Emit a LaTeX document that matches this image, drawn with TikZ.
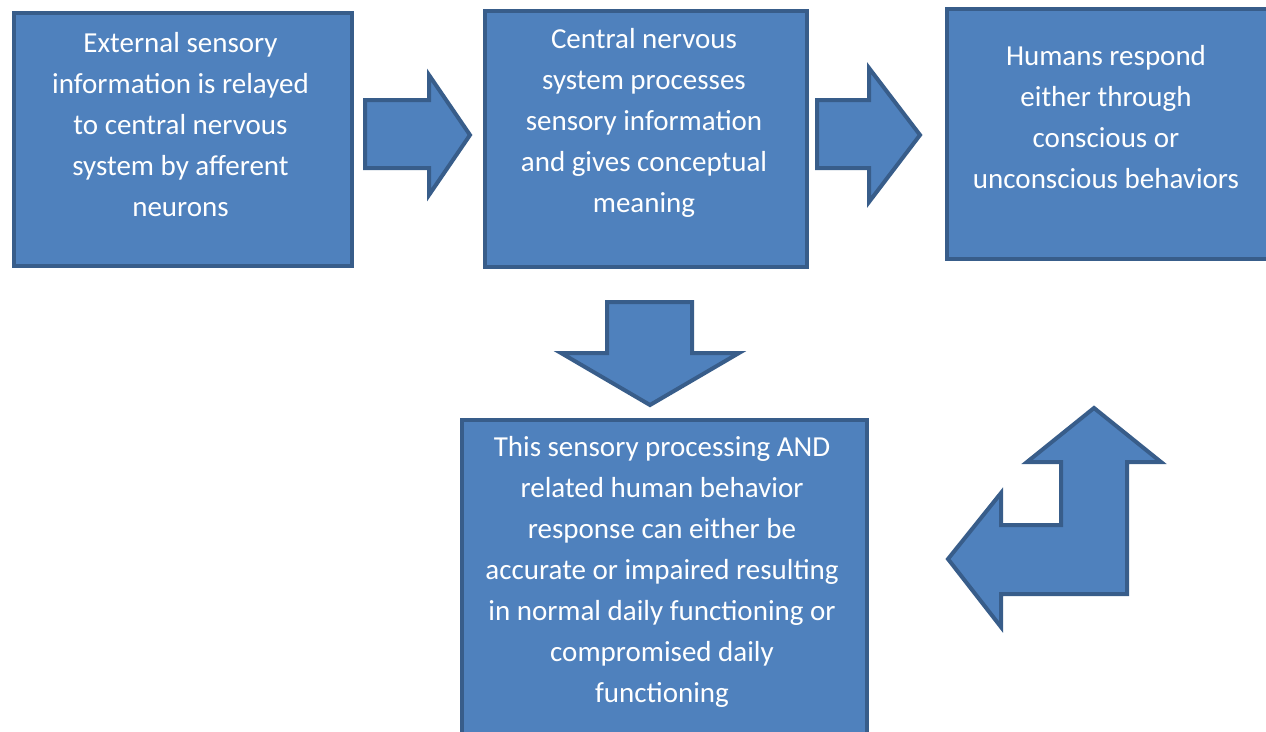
\documentclass[tikz,border=0pt]{standalone}
\usepackage{fontspec}
\setmainfont{Carlito}
\definecolor{boxfill}{HTML}{4F81BD}
\definecolor{boxline}{HTML}{385D8A}
\begin{document}
\begin{tikzpicture}[x=1pt,y=-1pt,
  blk/.style={draw=boxline, fill=boxfill, line width=4pt, line join=miter, inner sep=0pt, anchor=north west},
  shp/.style={draw=boxline, fill=boxfill, line width=4pt, line join=miter},
  txt/.style={text=white, align=center, font=\fontsize{29}{41}\selectfont, inner sep=0pt}]
\useasboundingbox (0,0) rectangle (1266,731);
% boxes
\node[blk, minimum width=338pt, minimum height=253pt] (b1) at (12,11) {};
\node[blk, minimum width=322pt, minimum height=256pt] (b2) at (483,9) {};
\node[blk, minimum width=330pt, minimum height=250pt] (b3) at (945,7) {};
\node[blk, minimum width=405pt, minimum height=330pt] (b4) at (459.5,417.5) {};
% texts
\node[txt] (t1) at (180.5,124.5) {External sensory\\information is relayed\\to central nervous\\system by afferent\\neurons};
\node[txt] (t2) at (644,122.5) {Central nervous\\system processes\\sensory information\\and gives conceptual\\meaning};
\node[txt] (t3) at (1106,117) {Humans respond\\either through\\conscious or\\unconscious behaviors};
\node[txt] (t4) at (662,571.5) {This sensory processing AND\\related human behavior\\response can either be\\accurate or impaired resulting\\in normal daily functioning or\\compromised daily\\functioning};
% block arrows
\draw[shp] (365,100) -- (429,100) -- (429,75) -- (470,135) -- (429,195) -- (429,168) -- (365,168) -- cycle;
\draw[shp] (817,100) -- (869,100) -- (869,68) -- (920,135) -- (869,202) -- (869,168) -- (817,168) -- cycle;
\draw[shp] (607,302) -- (692,302) -- (692,353) -- (739,353) -- (650,405) -- (561,353) -- (607,353) -- cycle;
\draw[shp] (1094,408) -- (1161,462) -- (1127,462) -- (1127,594) -- (1001,594) -- (1001,627) -- (948,559) -- (1001,493) -- (1001,525) -- (1061,525) -- (1061,462) -- (1027,462) -- cycle;
\end{tikzpicture}
\end{document}
